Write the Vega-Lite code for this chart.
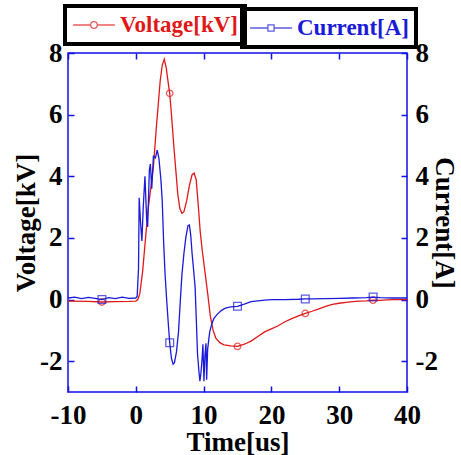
{
  "$schema": "https://vega.github.io/schema/vega-lite/v6.json",
  "width": 339,
  "height": 339,
  "autosize": "none",
  "padding": {"left": 68, "top": 53, "right": 54, "bottom": 63},
  "background": "white",
  "config": {
    "view": {"stroke": "#1010e8", "strokeWidth": 1.5},
    "font": "Liberation Serif",
    "axis": {
      "grid": false,
      "domain": false,
      "ticks": true,
      "tickSize": -6,
      "tickColor": "#1010e8",
      "tickWidth": 1.5,
      "labelFlush": false,
      "labelFont": "Liberation Serif",
      "labelFontSize": 27,
      "labelFontWeight": "bold",
      "labelColor": "black",
      "titleFont": "Liberation Serif",
      "titleFontSize": 27,
      "titleFontWeight": "bold",
      "titleColor": "black"
    },
    "legend": {
      "orient": "none",
      "direction": "horizontal",
      "title": null,
      "strokeColor": "black",
      "strokeWidth": 4,
      "padding": 7,
      "labelFont": "Liberation Serif",
      "labelFontSize": 23,
      "labelFontWeight": "bold",
      "labelOffset": 14,
      "symbolOffset": 10,
      "symbolStrokeWidth": 1.3,
      "symbolFillColor": "white",
      "symbolSize": 484
    }
  },
  "datasets": {
    "voltage": [
      {"t": -10, "v": -0.05}, {"t": -7, "v": -0.06}, {"t": -5, "v": -0.08}, {"t": -3, "v": -0.07},
      {"t": -1, "v": -0.06}, {"t": 0, "v": -0.05}, {"t": 0.3, "v": 0.0}, {"t": 0.6, "v": 0.2},
      {"t": 1.0, "v": 0.9}, {"t": 1.4, "v": 1.9}, {"t": 1.8, "v": 2.9}, {"t": 2.2, "v": 3.6},
      {"t": 2.6, "v": 4.3}, {"t": 3.0, "v": 5.5}, {"t": 3.3, "v": 6.3}, {"t": 3.6, "v": 7.1},
      {"t": 3.9, "v": 7.6}, {"t": 4.2, "v": 7.8}, {"t": 4.5, "v": 7.5}, {"t": 4.8, "v": 7.0},
      {"t": 5, "v": 6.69}, {"t": 5.3, "v": 5.9}, {"t": 5.6, "v": 5.0}, {"t": 5.9, "v": 4.2},
      {"t": 6.2, "v": 3.4}, {"t": 6.5, "v": 2.95}, {"t": 6.8, "v": 2.8}, {"t": 7.1, "v": 2.85},
      {"t": 7.5, "v": 3.2}, {"t": 7.9, "v": 3.7}, {"t": 8.3, "v": 4.05}, {"t": 8.6, "v": 4.1},
      {"t": 8.9, "v": 3.9}, {"t": 9.2, "v": 3.1}, {"t": 9.5, "v": 2.2}, {"t": 9.8, "v": 1.6},
      {"t": 10.2, "v": 0.9}, {"t": 10.6, "v": 0.2}, {"t": 11.0, "v": -0.55}, {"t": 11.4, "v": -1.0},
      {"t": 11.8, "v": -1.25}, {"t": 12.4, "v": -1.4}, {"t": 13.0, "v": -1.47}, {"t": 14.0, "v": -1.5},
      {"t": 15, "v": -1.52}, {"t": 16, "v": -1.45}, {"t": 17, "v": -1.35}, {"t": 18, "v": -1.2},
      {"t": 19, "v": -1.05}, {"t": 20, "v": -0.95}, {"t": 21, "v": -0.85}, {"t": 22, "v": -0.72},
      {"t": 23, "v": -0.62}, {"t": 24, "v": -0.53}, {"t": 25, "v": -0.45}, {"t": 26, "v": -0.38},
      {"t": 27, "v": -0.3}, {"t": 28, "v": -0.22}, {"t": 29, "v": -0.16}, {"t": 30, "v": -0.12},
      {"t": 31, "v": -0.09}, {"t": 32, "v": -0.07}, {"t": 33, "v": -0.05}, {"t": 34, "v": -0.04},
      {"t": 35, "v": -0.02}, {"t": 36, "v": -0.03}, {"t": 37, "v": -0.01}, {"t": 38, "v": 0.0},
      {"t": 39, "v": 0.0}, {"t": 40, "v": 0.0}
    ],
    "current": [
      {"t": -10, "a": 0.05}, {"t": -9, "a": 0.08}, {"t": -8, "a": 0.03}, {"t": -7, "a": 0.07},
      {"t": -6, "a": 0.04}, {"t": -5, "a": 0.0}, {"t": -4, "a": 0.06}, {"t": -3, "a": 0.03},
      {"t": -2, "a": 0.08}, {"t": -1, "a": 0.04}, {"t": 0, "a": 0.05}, {"t": 0.2, "a": 0.1},
      {"t": 0.4, "a": 1.0}, {"t": 0.5, "a": 3.3}, {"t": 0.7, "a": 2.5}, {"t": 0.9, "a": 1.9},
      {"t": 1.1, "a": 3.0}, {"t": 1.35, "a": 4.0}, {"t": 1.6, "a": 2.6}, {"t": 1.75, "a": 2.36},
      {"t": 2.0, "a": 4.2}, {"t": 2.15, "a": 4.4}, {"t": 2.35, "a": 3.6}, {"t": 2.6, "a": 4.65},
      {"t": 2.9, "a": 4.6}, {"t": 3.15, "a": 4.85}, {"t": 3.4, "a": 4.6}, {"t": 3.7, "a": 3.9},
      {"t": 3.9, "a": 3.2}, {"t": 4.1, "a": 1.9}, {"t": 4.3, "a": 0.9}, {"t": 4.55, "a": 0.0},
      {"t": 4.8, "a": -0.8}, {"t": 5, "a": -1.4}, {"t": 5.25, "a": -1.9}, {"t": 5.5, "a": -2.1},
      {"t": 5.7, "a": -2.05}, {"t": 6.0, "a": -1.7}, {"t": 6.3, "a": -1.05}, {"t": 6.55, "a": -0.1},
      {"t": 6.8, "a": 0.8}, {"t": 7.1, "a": 1.5}, {"t": 7.4, "a": 2.05}, {"t": 7.7, "a": 2.4},
      {"t": 7.9, "a": 2.42}, {"t": 8.1, "a": 2.1}, {"t": 8.3, "a": 1.5}, {"t": 8.55, "a": 0.9},
      {"t": 8.75, "a": 0.4}, {"t": 8.95, "a": -0.8}, {"t": 9.1, "a": -1.75}, {"t": 9.3, "a": -2.3},
      {"t": 9.45, "a": -2.65}, {"t": 9.6, "a": -2.4}, {"t": 9.75, "a": -2.0}, {"t": 9.9, "a": -1.45},
      {"t": 10.05, "a": -2.65}, {"t": 10.2, "a": -1.8}, {"t": 10.35, "a": -1.42}, {"t": 10.45, "a": -2.6},
      {"t": 10.6, "a": -1.6}, {"t": 10.9, "a": -1.05}, {"t": 11.2, "a": -0.8}, {"t": 11.5, "a": -0.62},
      {"t": 12.0, "a": -0.48}, {"t": 12.6, "a": -0.36}, {"t": 13.2, "a": -0.28}, {"t": 14.0, "a": -0.24},
      {"t": 15, "a": -0.22}, {"t": 16, "a": -0.15}, {"t": 17, "a": -0.07}, {"t": 18, "a": -0.04},
      {"t": 19, "a": -0.02}, {"t": 20, "a": 0.0}, {"t": 22, "a": 0.0}, {"t": 24, "a": 0.01},
      {"t": 25, "a": 0.02}, {"t": 26, "a": 0.02}, {"t": 28, "a": 0.03}, {"t": 30, "a": 0.04},
      {"t": 32, "a": 0.05}, {"t": 34, "a": 0.06}, {"t": 35, "a": 0.08}, {"t": 36, "a": 0.06},
      {"t": 38, "a": 0.05}, {"t": 40, "a": 0.05}
    ]
  },
  "layer": [
    {
      "data": {"name": "voltage"},
      "layer": [
        {
          "mark": {"type": "line", "strokeWidth": 1.3},
          "encoding": {
            "x": {"field": "t", "type": "quantitative", "scale": {"domain": [-10, 40], "nice": false},
              "axis": {"orient": "bottom", "title": "Time[us]", "values": [-10, 0, 10, 20, 30, 40], "labelExpr": "'' + datum.value", "labelPadding": 16, "titlePadding": 1}},
            "y": {"field": "v", "type": "quantitative", "scale": {"domain": [-3, 8], "nice": false},
              "axis": {"orient": "left", "title": "Voltage[kV]", "values": [-2, 0, 2, 4, 6, 8], "labelExpr": "'' + datum.value", "labelPadding": 12, "titlePadding": -1}},
            "color": {"datum": "Voltage[kV]", "scale": {"range": ["#e01818"]},
              "legend": {"symbolType": "M-1.9,0H-0.3M0.3,0H1.9M-0.3,0A0.3,0.3 0 1,1 0.3,0A0.3,0.3 0 1,1 -0.3,0", "labelColor": "#e01818",
                "legendX": -3, "legendY": -47}}
          }
        },
        {
          "transform": [{"filter": {"field": "t", "oneOf": [-5, 5, 15, 25, 35]}}],
          "mark": {"type": "point", "shape": "circle", "filled": false, "size": 42, "strokeWidth": 1.3},
          "encoding": {
            "x": {"field": "t", "type": "quantitative",
              "axis": {"orient": "bottom", "title": "Time[us]", "values": [-10, 0, 10, 20, 30, 40], "labelExpr": "'' + datum.value", "labelPadding": 16, "titlePadding": 1}},
            "y": {"field": "v", "type": "quantitative",
              "axis": {"orient": "left", "title": "Voltage[kV]", "values": [-2, 0, 2, 4, 6, 8], "labelExpr": "'' + datum.value", "labelPadding": 12, "titlePadding": -1}},
            "color": {"datum": "Voltage[kV]"}
          }
        }
      ]
    },
    {
      "data": {"name": "current"},
      "layer": [
        {
          "mark": {"type": "line", "strokeWidth": 1.3},
          "encoding": {
            "x": {"field": "t", "type": "quantitative",
              "axis": {"orient": "top", "title": null, "labels": false, "values": [-10, 0, 10, 20, 30, 40]}},
            "y": {"field": "a", "type": "quantitative", "scale": {"domain": [-3, 8], "nice": false},
              "axis": {"orient": "right", "title": "Current[A]", "values": [-2, 0, 2, 4, 6, 8], "labelExpr": "'' + datum.value", "labelPadding": 14, "titlePadding": -8}},
            "color": {"datum": "Current[A]", "scale": {"range": ["#1a1ad8"]},
              "legend": {"symbolType": "M-1.9,0H-0.28M0.28,0H1.9M-0.28,-0.28H0.28V0.28H-0.28Z", "labelColor": "#1a1ad8",
                "legendX": 174, "legendY": -44}}
          }
        },
        {
          "transform": [{"filter": {"field": "t", "oneOf": [-5, 5, 15, 25, 35]}}],
          "mark": {"type": "point", "shape": "square", "filled": false, "size": 60, "strokeWidth": 1.3},
          "encoding": {
            "x": {"field": "t", "type": "quantitative",
              "axis": {"orient": "top", "title": null, "labels": false, "values": [-10, 0, 10, 20, 30, 40]}},
            "y": {"field": "a", "type": "quantitative",
              "axis": {"orient": "right", "title": "Current[A]", "values": [-2, 0, 2, 4, 6, 8], "labelExpr": "'' + datum.value", "labelPadding": 14, "titlePadding": -8}},
            "color": {"datum": "Current[A]"}
          }
        }
      ]
    }
  ],
  "resolve": {"scale": {"y": "independent", "color": "independent"}, "axis": {"y": "independent", "x": "independent"}}
}
